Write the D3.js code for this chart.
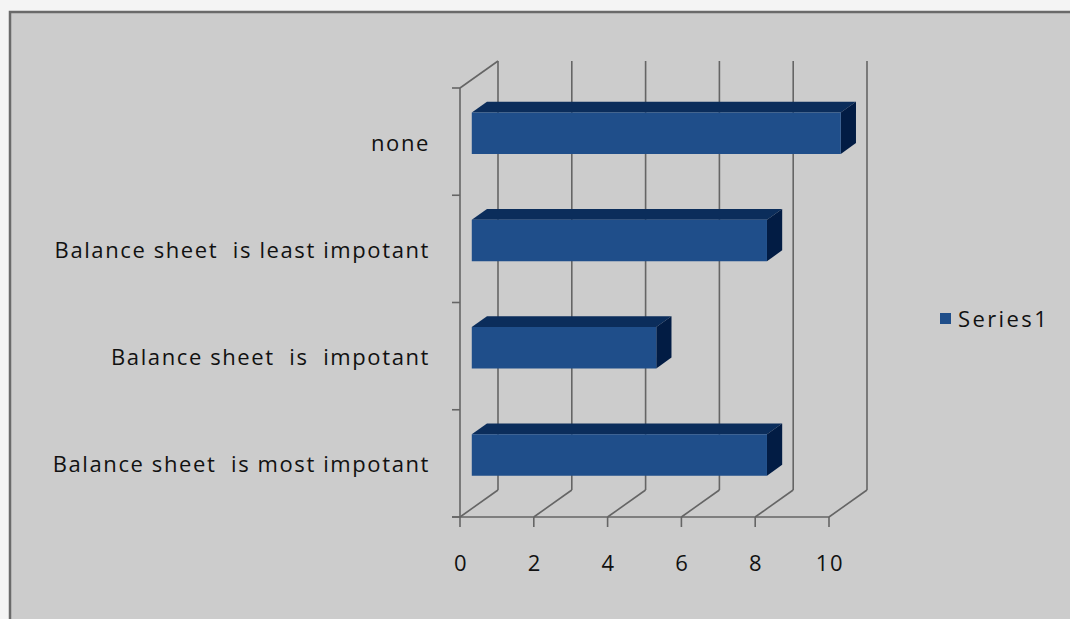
<!DOCTYPE html>
<html>
<head>
<meta charset="utf-8">
<script src="https://cdn.jsdelivr.net/npm/d3@7"></script>
<style>
  html, body { margin: 0; padding: 0; background: #f4f4f4; }
  svg { display: block; }
  text { font-family: "Open Sans", Lato, sans-serif; fill: #111; letter-spacing: 1.6px; }
</style>
</head>
<body>
<svg id="chart" width="1070" height="619"></svg>
<script>
// Categories, listed top to bottom as they appear on the vertical axis
const categories = [
  "none",
  "Balance sheet  is least impotant",
  "Balance sheet  is  impotant",
  "Balance sheet  is most impotant"
];
const seriesName = "Series1";
const values = [10, 8, 5, 8];
const xTicks = [0, 2, 4, 6, 8, 10];

const svg = d3.select("#chart");

// Chart area frame
svg.append("rect").attr("x", 10).attr("y", 12).attr("width", 1070).attr("height", 619)
  .attr("fill", "#cccccc");
svg.append("path").attr("d", "M10,619 V12 H1070")
  .attr("fill", "none").attr("stroke", "#6a6a6a").attr("stroke-width", 2.5);

// Scales for the front plane
const x = d3.scaleLinear().domain([0, 10]).range([460, 829]);
const y = d3.scaleBand().domain(categories).range([88, 517]).paddingInner(0).paddingOuter(0);

// Oblique depth projection: z = 0 front plane, z = 1 back wall
const DX = 38, DY = -27;
const proj = (px, py, z) => [px + z * DX, py + z * DY];

const gridColor = "#656565";
const grid = svg.append("g").attr("stroke", gridColor).attr("stroke-width", 1.6).attr("fill", "none");
const line = d3.line();

// Back wall vertical gridlines
xTicks.forEach(t => {
  grid.append("path").attr("d", line([proj(x(t), 88, 1), proj(x(t), 517, 1)]));
});
// Floor diagonals from the front axis ticks to the back wall
xTicks.forEach(t => {
  grid.append("path").attr("d", line([proj(x(t), 517, 0), proj(x(t), 517, 1)]));
});
// Left wall outline
grid.append("path").attr("d", line([proj(x(0), 88, 0), proj(x(0), 88, 1)]));

// Bars
const z0 = 0.31, z1 = 0.71;
const barH = y.bandwidth() * 0.385;
const colFront = "#1f4e8a", colTop = "#0b2d5b", colSide = "#021c44";
const bars = svg.append("g").selectAll("g").data(categories).join("g");

bars.each(function (c, i) {
  const g = d3.select(this);
  const yc = y(c) + y.bandwidth() / 2;
  const yt = yc - barH / 2, yb = yc + barH / 2;
  const xa = x(0), xb = x(values[i]);
  const poly = pts => "M" + pts.map(p => p.join(",")).join("L") + "Z";
  // top face
  g.append("path").attr("fill", colTop)
    .attr("d", poly([proj(xa, yt, z0), proj(xb, yt, z0), proj(xb, yt, z1), proj(xa, yt, z1)]));
  // right end face
  g.append("path").attr("fill", colSide)
    .attr("d", poly([proj(xb, yt, z0), proj(xb, yt, z1), proj(xb, yb, z1), proj(xb, yb, z0)]));
  // front face
  g.append("path").attr("fill", colFront)
    .attr("d", poly([proj(xa, yt, z0), proj(xb, yt, z0), proj(xb, yb, z0), proj(xa, yb, z0)]));
});

// Front axes
const axes = svg.append("g").attr("stroke", gridColor).attr("stroke-width", 1.6).attr("fill", "none");
axes.append("path").attr("d", line([[x(0), 88], [x(0), 517]]));
axes.append("path").attr("d", line([[x(0) - 8, 517], [x(10), 517]]));
xTicks.forEach(t => axes.append("path").attr("d", line([[x(t), 517], [x(t), 527]])));
[88, ...categories.map(c => y(c) + y.bandwidth())].forEach(v =>
  axes.append("path").attr("d", line([[x(0) - 8, v], [x(0), v]])));

// Tick labels
svg.append("g").selectAll("text").data(xTicks).join("text")
  .attr("x", d => x(d) + 1).attr("y", 571)
  .attr("text-anchor", "middle").attr("font-size", 22)
  .text(d => d);

// Category labels
svg.append("g").selectAll("text").data(categories).join("text")
  .attr("x", 430).attr("y", c => y(c) + y.bandwidth() / 2 + 9)
  .attr("text-anchor", "end").attr("font-size", 22)
  .style("white-space", "pre")
  .text(c => c);

// Legend
const legend = svg.append("g");
legend.append("rect").attr("x", 940).attr("y", 313).attr("width", 11).attr("height", 11).attr("fill", colFront);
legend.append("text").attr("x", 958).attr("y", 327).attr("font-size", 22)
  .style("letter-spacing", "2.4px").text(seriesName);
</script>
</body>
</html>
